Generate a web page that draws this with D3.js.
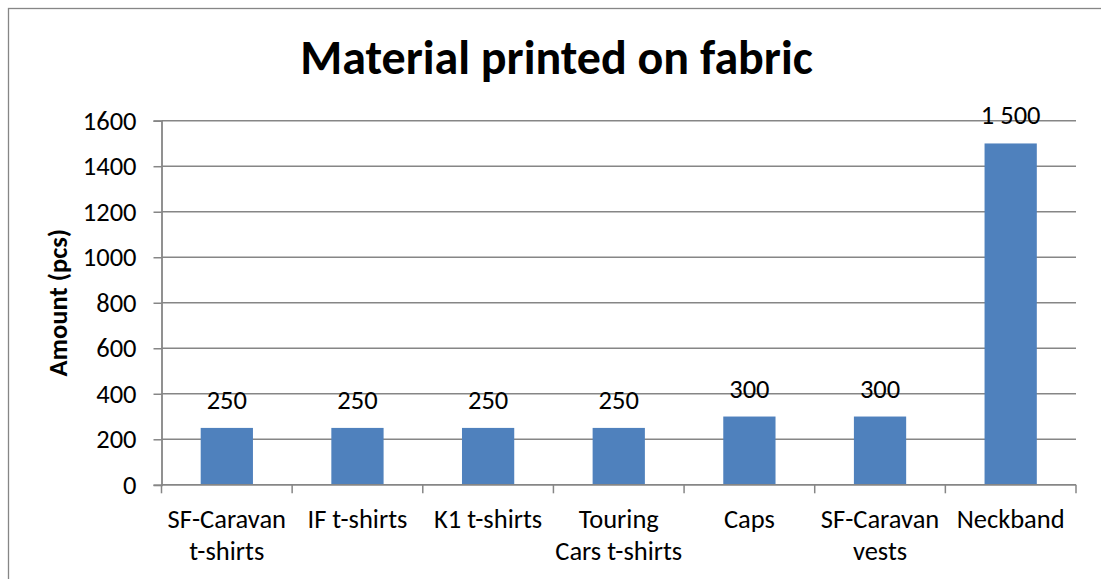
<!DOCTYPE html>
<html>
<head>
<meta charset="utf-8">
<script src="https://cdn.jsdelivr.net/npm/d3@7"></script>
<style>
  html, body { margin: 0; padding: 0; background: #fff; }
  svg { display: block; font-family: Carlito, Calibri, Lato, sans-serif; }
</style>
</head>
<body>
<svg id="chart" width="1101" height="579"></svg>
<script>
// Printed items and amounts (pcs)
const categories = [
  "SF-Caravan\nt-shirts",
  "IF t-shirts",
  "K1 t-shirts",
  "Touring\nCars t-shirts",
  "Caps",
  "SF-Caravan\nvests",
  "Neckband"
];
const amounts = [250, 250, 250, 250, 300, 300, 1500];
const yTicks = [0, 200, 400, 600, 800, 1000, 1200, 1400, 1600];

const titleText = "Material printed on fabric";
const yAxisTitle = "Amount (pcs)";

const W = 1101, H = 579;
const plot = { left: 161.5, right: 1076, top: 120.7, bottom: 484.8 };
const gridColor = "#868686";
const barColor = "#4F81BD";
const labelSize = "26.5px";

const svg = d3.select("#chart");

// Outer chart frame (continues past the right and bottom edges)
svg.append("rect")
  .attr("x", 8.5).attr("y", 8.5)
  .attr("width", W + 20).attr("height", H + 20)
  .attr("fill", "none").attr("stroke", gridColor).attr("stroke-width", 1.3);

const x = d3.scaleBand()
  .domain(categories)
  .range([plot.left, plot.right])
  .paddingInner(0.6)
  .paddingOuter(0.3);

const y = d3.scaleLinear()
  .domain([0, 1600])
  .range([plot.bottom, plot.top]);

// Horizontal gridlines
svg.append("g")
  .selectAll("line")
  .data(yTicks.filter(d => d > 0))
  .join("line")
  .attr("x1", plot.left).attr("x2", plot.right)
  .attr("y1", d => y(d)).attr("y2", d => y(d))
  .attr("stroke", gridColor).attr("stroke-width", 1.5);

// Bars
svg.append("g")
  .selectAll("rect")
  .data(amounts)
  .join("rect")
  .attr("x", (d, i) => x(categories[i]))
  .attr("width", x.bandwidth())
  .attr("y", d => y(d))
  .attr("height", d => y(0) - y(d))
  .attr("fill", barColor);

// Y axis
const yAxis = d3.axisLeft(y)
  .tickValues(yTicks)
  .tickFormat(d3.format("d"))
  .tickSize(8)
  .tickPadding(17);

const gy = svg.append("g")
  .attr("transform", `translate(${plot.left},0)`)
  .call(yAxis);
gy.select(".domain").attr("stroke", gridColor).attr("stroke-width", 1.8);
gy.selectAll(".tick line").attr("stroke", gridColor).attr("stroke-width", 1.5);
gy.selectAll(".tick text")
  .attr("fill", "#000")
  .style("font-size", labelSize)
  .style("font-family", "Carlito, Calibri, Lato, sans-serif");

// X axis: line, ticks at category boundaries, wrapped labels
svg.append("line")
  .attr("x1", plot.left).attr("x2", plot.right)
  .attr("y1", y(0)).attr("y2", y(0))
  .attr("stroke", gridColor).attr("stroke-width", 1.8);

const step = x.step();
const boundaries = d3.range(categories.length + 1).map(i => x(categories[0]) - x.paddingOuter() * step + i * step);
svg.append("g")
  .selectAll("line")
  .data(boundaries)
  .join("line")
  .attr("x1", d => d).attr("x2", d => d)
  .attr("y1", y(0)).attr("y2", y(0) + 8.5)
  .attr("stroke", gridColor).attr("stroke-width", 1.5);

const catLabels = svg.append("g")
  .selectAll("text")
  .data(categories)
  .join("text")
  .attr("x", d => x(d) + x.bandwidth() / 2)
  .attr("y", y(0) + 43)
  .attr("text-anchor", "middle")
  .attr("fill", "#000")
  .style("font-size", labelSize);
catLabels.each(function(d) {
  const lines = d.split("\n");
  const t = d3.select(this);
  lines.forEach((ln, i) => {
    t.append("tspan")
      .attr("x", x(d) + x.bandwidth() / 2)
      .attr("dy", i === 0 ? 0 : 32)
      .text(ln);
  });
});

// Value labels (space as thousands separator)
const fi = d3.formatLocale({ decimal: ",", thousands: "\u00a0", grouping: [3], currency: ["", " €"] });
const fmtVal = fi.format(",d");
svg.append("g")
  .selectAll("text")
  .data(amounts)
  .join("text")
  .attr("x", (d, i) => x(categories[i]) + x.bandwidth() / 2)
  .attr("y", d => y(d) - 19)
  .attr("text-anchor", "middle")
  .attr("fill", "#000")
  .style("font-size", labelSize)
  .text(d => fmtVal(d));

// Y axis title
svg.append("text")
  .attr("transform", `translate(67,${(plot.top + plot.bottom) / 2}) rotate(-90)`)
  .attr("text-anchor", "middle")
  .attr("fill", "#000")
  .style("font-size", "26.5px")
  .style("font-weight", "bold")
  .text(yAxisTitle);

// Chart title
svg.append("text")
  .attr("x", 556.5)
  .attr("y", 74)
  .attr("text-anchor", "middle")
  .attr("fill", "#000")
  .style("font-size", "48px")
  .style("font-weight", "bold")
  .text(titleText);
</script>
</body>
</html>
